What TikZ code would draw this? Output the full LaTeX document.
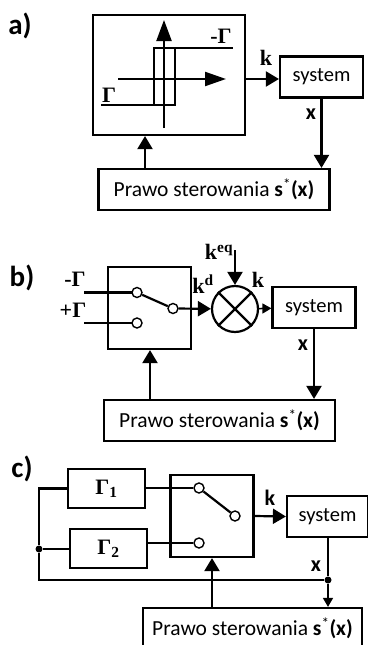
\documentclass[tikz,border=0pt]{standalone}
\usepackage{fontspec}
\setmainfont{Carlito}
\usetikzlibrary{arrows.meta,calc,positioning}
\newcommand{\lawtext}{Prawo sterowania \textbf{s}\textsuperscript{*}\textbf{(x)}}
\tikzset{
  block/.style={draw,line width=2.2pt,minimum width=#1,inner sep=0pt},
  sysblock/.style={block=83pt,minimum height=41pt,font=\fontsize{20.5}{23}\selectfont},
  lawblock/.style={block=#1,minimum height=41pt,font=\fontsize{21.5}{24}\selectfont},
  swdot/.style={draw,circle,line width=1.4pt,fill=white,minimum size=10pt,inner sep=0pt},
  jdot/.style={circle,fill=black,minimum size=7pt,inner sep=0pt},
  wire/.style={line width=2.2pt},
  flow/.style={line width=2.2pt,-{Triangle[length=13pt,width=15pt]}},
  flowsmall/.style={line width=1.5pt,-{Triangle[length=9pt,width=10pt]}},
  lab/.style={font=\fontsize{22}{24}\selectfont\bfseries},
  tag/.style={font=\fontsize{29}{31}\selectfont\bfseries},
  sym/.style={font=\fontsize{22}{24}\selectfont\bfseries\fontspec{Liberation Serif}},
}
\begin{document}
\begin{tikzpicture}[x=1pt,y=-1pt]
    \useasboundingbox (0,0) rectangle (367,645);

    % panel a
    \node[tag] (taga) at (20,26) {a)};
    \node[block=152pt,minimum height=120pt] (relay) at (169,75) {};
    \node[sysblock] (sysa) at (321.5,77) {system};
    \node[lawblock=231pt] (lawa) at (214,189.5) {\lawtext};
    \coordinate (va) at (164,128);
    \coordinate (vb) at (164,20);
    \coordinate (ha) at (118,79);
    \coordinate (hb) at (226,79);
    \draw[line width=2.2pt,-{Triangle[length=21pt,width=15pt]}] (va) -- (vb);
    \draw[line width=2.2pt,-{Triangle[length=21pt,width=14pt]}] (ha) -- (hb);
    \draw[wire] (101,105) -- (175,105) -- (175,48) -- (154,48) -- (154,105);
    \draw[wire] (175,48) -- (233,48);
    \node[sym] (gma) at (221,36) {-Γ};
    \node[sym] (gpa) at (109,95) {Γ};
    \node[sym] (ka) at (266,58) {k};
    \node[lab] (xa) at (311,114) {x};
    \draw[flow] (relay.east |- 0,79) -- (sysa.west |- 0,79);
    \draw[flow] (sysa.south) -- (sysa.south |- lawa.north);
    \draw[flow] (lawa.north -| 145,0) -- (relay.south -| 145,0);

    % panel b
    \node[tag] (tagb) at (22,278) {b)};
    \node[block=83pt,minimum height=82pt] (swb) at (149.5,308) {};
    \node[sysblock] (sysb) at (314,307.5) {system};
    \node[lawblock=231pt] (lawb) at (219.5,420.5) {\lawtext};
    \coordinate (ina) at (84,292.5);
    \coordinate (inb) at (84,323);
    \coordinate (eq) at (235,250);
    \draw[wire] (ina) -- (137,292.5);
    \draw[wire] (inb) -- (137,323);
    \node[swdot] (pa) at (137,292.5) {};
    \node[swdot] (pb) at (173,308.5) {};
    \node[swdot] (pc) at (137,323) {};
    \node[draw,circle,line width=2.2pt,minimum size=46pt,inner sep=0pt] (sum) at (235,309) {};
    \draw[wire] (sum.45) -- (sum.225) (sum.135) -- (sum.315);
    \draw[wire] (pa) -- (pb);
    \draw[flow] (pb) -- (sum);
    \draw[flowsmall] (sum) -- (sysb);
    \draw[flow] (eq) -- (sum);
    \draw[flow] (sysb.south) -- (sysb.south |- lawb.north);
    \draw[flow] (lawb.north -| 150,0) -- (swb.south -| 150,0);
    \node[sym] (gmb) at (75,279) {-Γ};
    \node[sym] (gpb) at (73,310) {+Γ};
    \node[sym] (kdb) at (203,284) {k\textsuperscript{d}};
    \node[sym] (keq) at (219,252) {k\textsuperscript{eq}};
    \node[sym] (kb) at (258,280) {k};
    \node[lab] (xb) at (303,345) {x};

    % panel c
    \node[tag] (tagc) at (22,469) {c)};
    \node[block=77pt,minimum height=39pt,sym] (gone) at (106.5,488.5) {Γ\textsubscript{1}};
    \node[block=77pt,minimum height=39pt,sym] (gtwo) at (108.5,548.5) {Γ\textsubscript{2}};
    \node[block=83pt,minimum height=82pt] (swc) at (212,516) {};
    \node[sysblock,minimum width=81pt] (sysc) at (327.5,516.5) {system};
    \node[lawblock=219pt] (lawc) at (252.5,628.5) {\lawtext};
    \node[swdot] (qa) at (199,488) {};
    \node[swdot] (qb) at (235,516) {};
    \node[swdot] (qc) at (199,543) {};
    \node[jdot] (ja) at (39,549) {};
    \node[jdot] (jb) at (328,580) {};
    \draw[wire] (gone.east |- qa) -- (qa);
    \draw[wire] (gtwo.east |- qc) -- (qc);
    \draw[wire] (qa) -- (qb);
    \draw[wire] (gone.west) -- (ja |- gone.west) -- (ja) -- (ja |- jb) -- (jb);
    \draw[wire] (ja) -- (gtwo.west |- ja);
    \draw[line width=1.5pt] (sysc.south -| jb) -- (jb);
    \draw[flowsmall] (jb) -- (lawc.north -| jb);
    \draw[flow] (swc.east) -- (sysc.west);
    \draw[flow] (lawc.north -| swc) -- (swc);
    \node[lab] (kc) at (270,498) {k};
    \node[lab] (xc) at (316,566) {x};
\end{tikzpicture}
\end{document}
